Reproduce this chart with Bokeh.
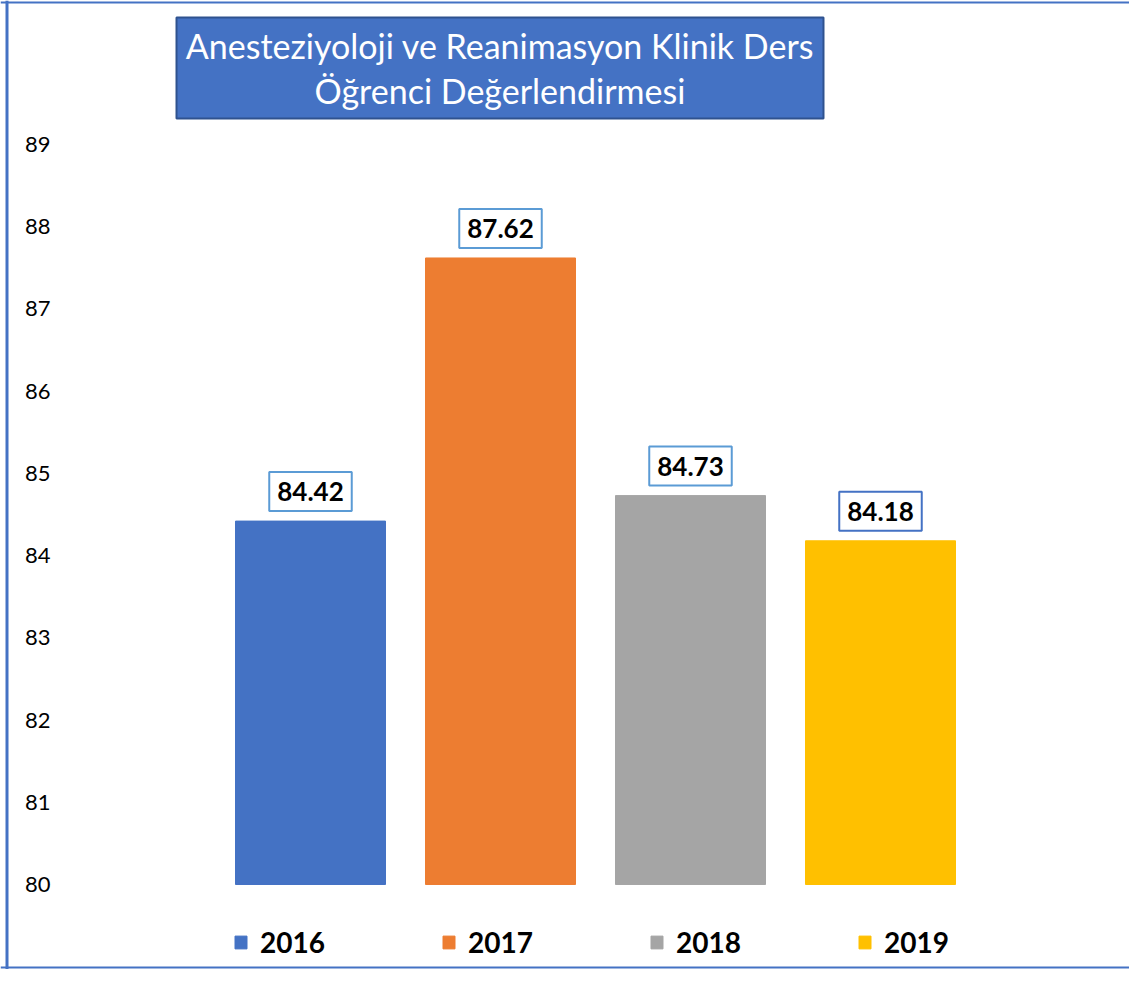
from bokeh.plotting import figure
from bokeh.models import (ColumnDataSource, Range1d, LinearAxis, FixedTicker, Label,
                          BoxAnnotation, Span)
from bokeh.embed import file_html
from bokeh.resources import INLINE

# ---- data ----
years = [2016, 2017, 2018, 2019]
year_labels = ["2016", "2017", "2018", "2019"]
scores = [84.42, 87.62, 84.73, 84.18]
bar_colors = ["#4472C4", "#ED7D31", "#A5A5A5", "#FFC000"]
label_borders = ["#5B9BD5", "#5B9BD5", "#5B9BD5", "#4472C4"]
y_ticks = [80, 81, 82, 83, 84, 85, 86, 87, 88, 89]
title_text = "Anesteziyoloji ve Reanimasyon Klinik Ders\nÖğrenci Değerlendirmesi"

FONT = "Lato"
W, H = 1129, 969
PX_X = 190.0      # pixels per year
PX_Y = 82.22      # pixels per point

src = ColumnDataSource(dict(x=years, top=scores, color=bar_colors, label=year_labels))

x0 = years[0] - 310 / PX_X
y_lo = 80 - (H - 884) / PX_Y
y_hi = 89 + 144 / PX_Y
p = figure(width=W, height=H, x_range=Range1d(x0, x0 + W / PX_X),
           y_range=Range1d(y_lo, y_hi), min_border=0,
           toolbar_location=None, output_backend="svg",
           x_axis_type=None, y_axis_type=None)
p.outline_line_color = None
p.background_fill_color = "white"
p.border_fill_color = "white"

r = p.vbar(x="x", top="top", bottom=80, width=150 / PX_X, color="color",
           source=src, legend_field="label")

# y axis drawn inside the frame
ax = LinearAxis(fixed_location=x0 + 62 / PX_X, ticker=FixedTicker(ticks=y_ticks))
ax.axis_line_color = None
ax.major_tick_line_color = None
ax.minor_tick_line_color = None
ax.major_label_standoff = 6
ax.major_label_text_font = FONT
ax.major_label_text_font_size = "22px"
ax.major_label_text_color = "#000000"
p.add_layout(ax, "left")

# title box
p.add_layout(BoxAnnotation(left=176, right=823, bottom=H - 118, top=H - 17,
                           left_units="screen", right_units="screen",
                           top_units="screen", bottom_units="screen",
                           fill_color="#4472C4", fill_alpha=1.0,
                           line_color="#2F528F", line_width=2, line_alpha=1.0,
                           editable=False))
p.add_layout(Label(x=499.5, y=H - 67.5, x_units="screen", y_units="screen",
                   text=title_text, text_align="center", text_baseline="middle",
                   text_font=FONT, text_font_size="34px", text_color="white",
                   text_line_height=1.12))

# data labels
for yr, v, bc in zip(years, scores, label_borders):
    p.add_layout(Label(x=yr, y=v, text=f"{v:.2f}", text_align="center",
                       text_baseline="bottom", y_offset=10,
                       text_font=FONT, text_font_style="bold", text_font_size="26px",
                       text_color="black", background_fill_color="white",
                       border_line_color=bc, border_line_width=2,
                       padding=dict(left=8, right=8, top=10, bottom=10)))

# legend
lg = p.legend[0]
lg.orientation = "horizontal"
lg.location = (233, 10)
lg.glyph_width = 15
lg.glyph_height = 16
lg.label_standoff = 12
lg.label_width = 80
lg.spacing = 101
lg.padding = 0
lg.margin = 0
lg.border_line_color = None
lg.background_fill_alpha = 0
lg.label_text_font = FONT
lg.label_text_font_style = "bold"
lg.label_text_font_size = "28px"
lg.label_text_color = "black"

# chart-area border (left, top, bottom)
p.add_layout(Span(location=x0 + 6.5 / PX_X, dimension="height", line_color="#4472C4", line_width=3))
p.add_layout(Span(location=y_hi - 2.0 / PX_Y, dimension="width", line_color="#4472C4", line_width=2))
p.add_layout(Span(location=y_lo + 2.0 / PX_Y, dimension="width", line_color="#4472C4", line_width=2))

open("out.html", "w").write(file_html(p, INLINE))
